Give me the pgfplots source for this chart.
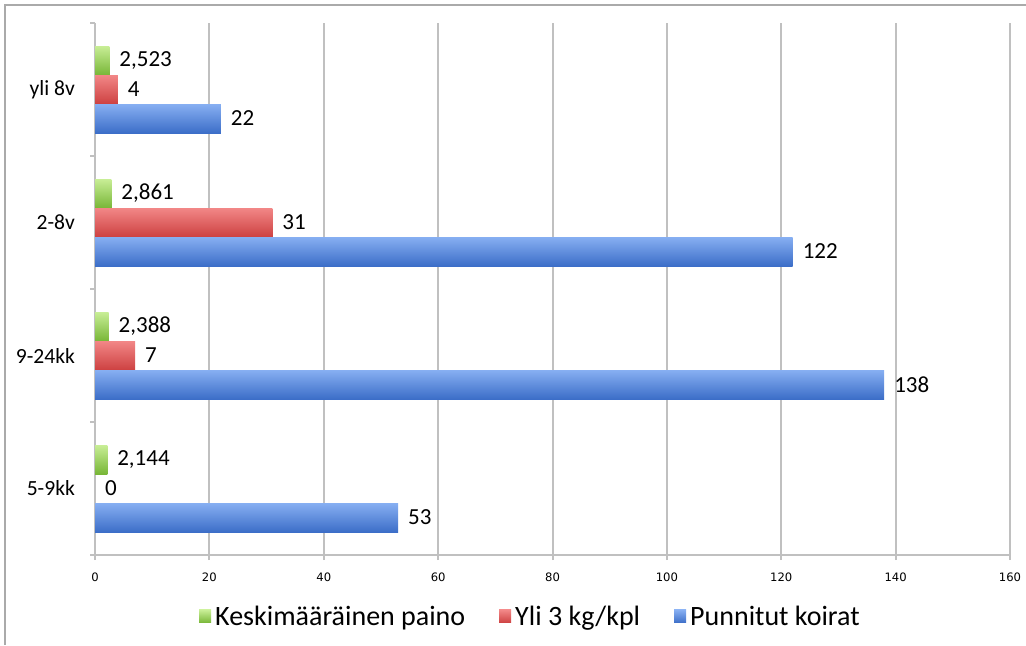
\documentclass[border=0pt]{standalone}
\usepackage{pgfplots}
\usepackage{pgfplotstable}
\pgfplotsset{compat=1.18}
\usepackage{fontspec}
\setmainfont{Carlito}
\newfontfamily\tickfont{DejaVu Sans}
\definecolor{gridgray}{RGB}{192,192,192}
\definecolor{frame}{RGB}{170,170,170}
\definecolor{gTop}{RGB}{200,238,150}
\definecolor{gBot}{RGB}{120,182,55}
\definecolor{rTop}{RGB}{242,135,135}
\definecolor{rBot}{RGB}{205,65,65}
\definecolor{bTop}{RGB}{135,175,242}
\definecolor{bBot}{RGB}{60,110,200}
% c: category index (0=5-9kk, 1=9-24kk, 2=2-8v, 3=yli 8v)
\pgfplotstableread{
c v
0 2.144
1 2.388
2 2.861
3 2.523
}\paino
\pgfplotstableread{
c v
0 0
1 7
2 31
3 4
}\yli
\pgfplotstableread{
c v
0 53
1 138
2 122
3 22
}\punnitut
\begin{document}
\begin{tikzpicture}
\useasboundingbox (0,0) rectangle (513pt,322.5pt);
\draw[frame, line width=1pt] (2.5pt,0) -- (2.5pt,320pt) -- (513pt,320pt);
\begin{axis}[
  at={(47.5pt,45pt)}, anchor=south west,
  scale only axis, width=457.5pt, height=266pt,
  xmin=0, xmax=160, ymin=-0.5, ymax=3.5,
  xtick={0,20,...,160},
  ytick={0,1,2,3},
  yticklabels={5-9kk,9-24kk,2-8v,yli 8v},
  minor ytick={-0.5,0.5,1.5,2.5,3.5},
  axis x line*=bottom, axis y line*=left,
  axis line style={-, draw=gridgray, line width=1pt},
  xmajorgrids, grid style={gridgray, line width=1pt},
  tick align=outside,
  major tick length=2.5pt, minor tick length=2.5pt,
  major x tick style={gridgray, line width=1pt},
  major y tick style={draw=none},
  minor y tick style={gridgray, line width=1pt},
  /pgf/number format/assume math mode=true,
  /pgf/number format/use comma,
  /pgf/number format/precision=3,
  xticklabel style={font=\tickfont\fontsize{5.8}{7}\selectfont, yshift=-3pt},
  yticklabel style={font=\fontsize{10.8}{12}\selectfont, xshift=-4pt},
  xbar, bar width=14.5pt,
  point meta=x,
  nodes near coords,
  nodes near coords align={horizontal},
  every node near coord/.append style={font=\fontsize{11.5}{13}\selectfont, black, xshift=1.5pt},
  legend style={at={(0.477,-0.1165)}, anchor=center, draw=none, fill=none,
    legend columns=3, font=\fontsize{14}{16}\selectfont,
    /tikz/every even column/.append style={column sep=15pt}},
  legend image code/.code={\fill[#1] (-1.5pt,-3pt) rectangle (4.5pt,3.5pt);},
]
\addlegendimage{draw=none, top color=gTop, bottom color=gBot}
\addlegendentry{Keskimääräinen paino}
\addlegendimage{draw=none, top color=rTop, bottom color=rBot}
\addlegendentry{Yli 3 kg/kpl}
\addlegendimage{draw=none, top color=bTop, bottom color=bBot}
\addlegendentry{Punnitut koirat}
\pgfplotsinvokeforeach{0,1,2,3}{
\addplot[forget plot, bar shift=14.5pt, draw=none, top color=gTop, bottom color=gBot,
  y filter/.expression={abs(y-#1)<0.2 ? y : nan}]
  table[x=v, y=c] {\paino};
\addplot[forget plot, bar shift=0pt, draw=none, top color=rTop, bottom color=rBot,
  y filter/.expression={abs(y-#1)<0.2 ? y : nan}]
  table[x=v, y=c] {\yli};
\addplot[forget plot, bar shift=-14.5pt, draw=none, top color=bTop, bottom color=bBot,
  y filter/.expression={abs(y-#1)<0.2 ? y : nan}]
  table[x=v, y=c] {\punnitut};
}
\end{axis}
\end{tikzpicture}
\end{document}
